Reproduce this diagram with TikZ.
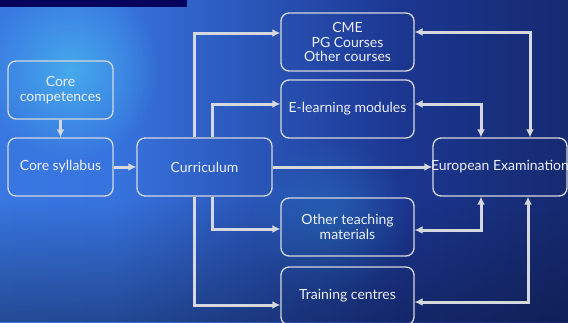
\documentclass[tikz,border=0pt]{standalone}
\usepackage{fontspec}
\setmainfont{Lato}
\usetikzlibrary{arrows.meta,positioning,calc,fadings}
\definecolor{lineGrey}{HTML}{D6D8E0}
\definecolor{textWhite}{HTML}{EEF0FA}
\definecolor{barNavy}{HTML}{02025C}
\definecolor{bgLeft}{HTML}{3C7FE8}
\definecolor{bgMid}{HTML}{2446B8}
\definecolor{bgRight}{HTML}{0A1438}
\pgfdeclarehorizontalshading{bgshade}{100bp}{color(0bp)=(bgLeft); color(35bp)=(bgLeft!80!bgMid); color(60bp)=(bgMid!70!bgRight); color(100bp)=(bgRight)}
\tikzfading[name=glow,inner color=transparent!35,outer color=transparent!100]
\tikzfading[name=fade up,top color=transparent!100,bottom color=transparent!0]

\begin{document}
\begin{tikzpicture}[x=1pt,y=-1pt,>={Latex[length=8pt,width=8pt]},thick,
    main node/.style={draw=lineGrey,line width=1.3pt,rounded corners=8pt,minimum height=58pt,align=center,
        text=textWhite,font=\fontsize{14}{14.5}\selectfont,inner sep=0pt},
    link/.style={draw=lineGrey,line width=3pt}]
    \useasboundingbox (0,0) rectangle (568,322);
    \shade[shading=bgshade] (0,0) rectangle (568,322);
    \fill[cyan!70!white,path fading=glow] (70,70) circle (90);
    \fill[cyan!50!bgLeft,path fading=glow,opacity=0.5] (330,220) circle (80);
    \fill[bgRight,path fading=fade up,opacity=0.45] (0,200) rectangle (568,322);
    \fill[barNavy] (0,0) rectangle (187,7);

    % left column
    \node[main node,minimum width=105pt] (comp) at (60.5,90) {Core\\competences};
    \node[main node,minimum width=105pt] (syll) at (60.5,167) {Core syllabus};
    \node[main node,minimum width=135pt] (curr) at (204.5,167) {Curriculum};

    % middle column
    \node[main node,minimum width=133pt] (cme) at (347.5,42) {CME\\PG Courses\\Other courses};
    \node[main node,minimum width=133pt] (elearn) at (347.5,109) {E-learning modules};
    \node[main node,minimum width=133pt] (teach) at (347.5,227) {Other teaching\\materials};
    \node[main node,minimum width=133pt] (train) at (347.5,296) {Training centres};

    % right column
    \node[main node,minimum width=134pt] (euro) at (500,167) {\makebox[0pt]{European Examination}};

    \draw[link,->] (comp) -- (syll);
    \draw[link,->] (syll) -- (curr);
    \draw[link,->] (curr) -- (euro);
    \draw[link,->] ([xshift=-10pt]curr.north) |- ([yshift=9pt]cme.west);
    \draw[link,->] ([xshift=8pt]curr.north) |- ([yshift=5pt]elearn.west);
    \draw[link,->] ([xshift=8pt]curr.south) |- ([yshift=-2pt]teach.west);
    \draw[link,->] ([xshift=-10pt]curr.south) |- ([yshift=-9pt]train.west);

    \draw[link,<->] ([yshift=10pt]cme.east) -| ([xshift=30pt]euro.north);
    \draw[link,<->] ([yshift=5pt]elearn.east) -| ([xshift=-19pt]euro.north);
    \draw[link,<->] ([yshift=-3pt]teach.east) -| ([xshift=-19pt]euro.south);
    \draw[link,<->] ([yshift=-6pt]train.east) -| ([xshift=28pt]euro.south);
\end{tikzpicture}
\end{document}
